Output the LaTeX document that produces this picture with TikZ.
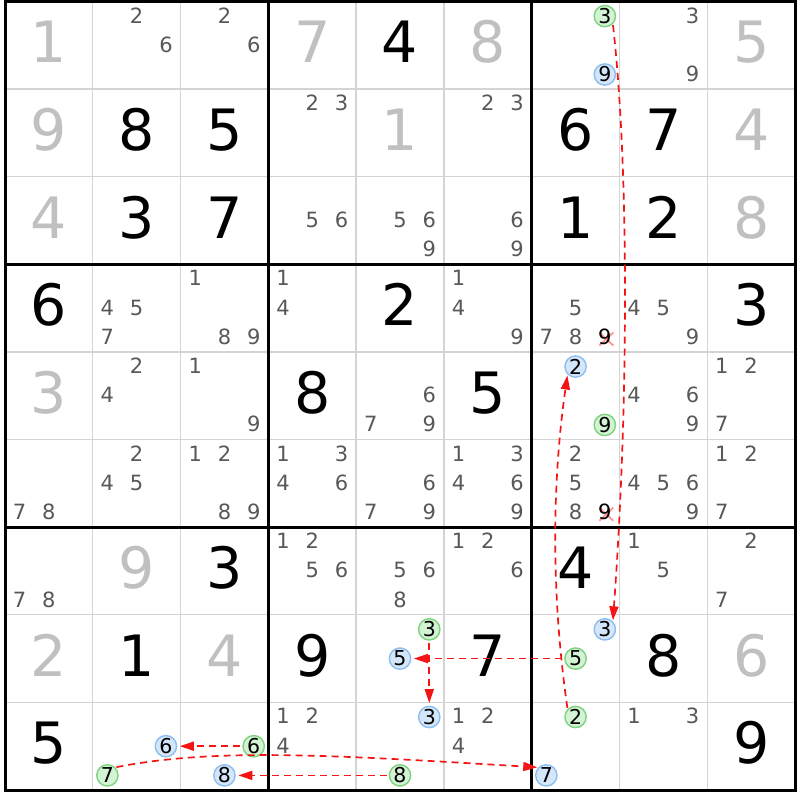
\documentclass[tikz,border=0pt]{standalone}
\usepackage{fontspec}
\setmainfont{DejaVu Sans}
\usetikzlibrary{arrows.meta}
\definecolor{solvedc}{RGB}{192,192,192}
\definecolor{candc}{RGB}{88,88,88}
\definecolor{thinc}{RGB}{212,212,212}
\definecolor{gfill}{RGB}{212,242,212}
\definecolor{gline}{RGB}{125,210,125}
\definecolor{bfill}{RGB}{212,230,250}
\definecolor{bline}{RGB}{140,190,240}
\definecolor{xred}{RGB}{255,150,150}
\definecolor{arrc}{RGB}{245,20,20}
\newcommand{\cellw}{87.78}
\newcommand{\cellh}{87.61}
\newcommand{\bigd}[4]{\node[bigdig,text=#4] (v#1#2) at ({5+\cellw*(#2-0.5)},{1.5+\cellh*(#1-0.5)+17.5}) {#3};}
\newcommand{\cd}[3]{\node[candig] (c#1#2#3) at ({5+\cellw*(#2-1)+\cellw*(2*mod(#3-1,3)+1)/6},{1.5+\cellh*(#1-1)+\cellh*(2*floor((#3-1)/3)+1)/6+7}) {#3};}
\newcommand{\cands}[3]{\foreach \d in {#3}{\cd{#1}{#2}{\d}}}
\newcommand{\cc}[4]{\node[#4] (n#1#2#3) at ({5+\cellw*(#2-1)+\cellw*(2*mod(#3-1,3)+1)/6},{1.5+\cellh*(#1-1)+\cellh*(2*floor((#3-1)/3)+1)/6}) {#3};}
\tikzset{
  bigdig/.style={font=\fontsize{57}{57}\selectfont, anchor=base, inner sep=0pt},
  candig/.style={font=\fontsize{21}{21}\selectfont, text=candc, anchor=base, inner sep=0pt},
  gcirc/.style={circle, draw=gline, fill=gfill, line width=1.4pt, minimum size=21.3pt, inner sep=0pt, font=\fontsize{20.5}{20.5}\selectfont, text=black},
  bcirc/.style={circle, draw=bline, fill=bfill, line width=1.4pt, minimum size=21.3pt, inner sep=0pt, font=\fontsize{20.5}{20.5}\selectfont, text=black},
  thinline/.style={draw=thinc, line width=1.4pt},
  thickline/.style={draw=black, line width=3pt},
  xmark/.style={draw=xred, line width=1.8pt},
  chainlink/.style={draw=arrc, line width=1.7pt, dash pattern=on 7pt off 5pt, -{Triangle[length=14pt,width=9pt]}, shorten <=2pt, shorten >=2.5pt},
}
\begin{document}
\begin{tikzpicture}[x=1pt,y=-1pt]
\useasboundingbox (0,0) rectangle (800,800);
\fill[white] (0,0) rectangle (800,800);
% grid
\foreach \i in {1,2,4,5,7,8} {
  \draw[thinline] ({5+\cellw*\i},1.5) -- ({5+\cellw*\i},790);
  \draw[thinline] (5,{1.5+\cellh*\i}) -- (795,{1.5+\cellh*\i});
}
\foreach \i in {3,6} {
  \draw[thickline] ({5+\cellw*\i},1.5) -- ({5+\cellw*\i},790);
  \draw[thickline] (5,{1.5+\cellh*\i}) -- (795,{1.5+\cellh*\i});
}
\draw[thickline] (5,1.5) rectangle (795,790);
% given digits
\bigd{1}{5}{4}{black}
\bigd{2}{2}{8}{black}\bigd{2}{3}{5}{black}\bigd{2}{7}{6}{black}\bigd{2}{8}{7}{black}
\bigd{3}{2}{3}{black}\bigd{3}{3}{7}{black}\bigd{3}{7}{1}{black}\bigd{3}{8}{2}{black}
\bigd{4}{1}{6}{black}\bigd{4}{5}{2}{black}\bigd{4}{9}{3}{black}
\bigd{5}{4}{8}{black}\bigd{5}{6}{5}{black}
\bigd{7}{3}{3}{black}\bigd{7}{7}{4}{black}
\bigd{8}{2}{1}{black}\bigd{8}{4}{9}{black}\bigd{8}{6}{7}{black}\bigd{8}{8}{8}{black}
\bigd{9}{1}{5}{black}\bigd{9}{9}{9}{black}
% solved digits
\bigd{1}{1}{1}{solvedc}\bigd{1}{4}{7}{solvedc}\bigd{1}{6}{8}{solvedc}\bigd{1}{9}{5}{solvedc}
\bigd{2}{1}{9}{solvedc}\bigd{2}{5}{1}{solvedc}\bigd{2}{9}{4}{solvedc}
\bigd{3}{1}{4}{solvedc}\bigd{3}{9}{8}{solvedc}
\bigd{5}{1}{3}{solvedc}
\bigd{7}{2}{9}{solvedc}
\bigd{8}{1}{2}{solvedc}\bigd{8}{3}{4}{solvedc}\bigd{8}{9}{6}{solvedc}
% elimination marks
\draw[xmark] (599.3,332.5) -- (613.3,345.5) (599.3,345.5) -- (613.3,332.5);
\draw[xmark] (599.3,507.7) -- (613.3,520.7) (599.3,520.7) -- (613.3,507.7);
% candidates
\cands{1}{2}{2,6}\cands{1}{3}{2,6}\cands{1}{8}{3,9}
\cands{2}{4}{2,3}\cands{2}{6}{2,3}
\cands{3}{4}{5,6}\cands{3}{5}{5,6,9}\cands{3}{6}{6,9}
\cands{4}{2}{4,5,7}\cands{4}{3}{1,8,9}\cands{4}{4}{1,4}\cands{4}{6}{1,4,9}
\cands{4}{7}{5,7,8}\cands{4}{8}{4,5,9}
\node[candig,text=black] (c479) at ({5+\cellw*6+\cellw*5/6},{1.5+\cellh*3+\cellh*5/6+7}) {9};
\cands{5}{2}{2,4}\cands{5}{3}{1,9}\cands{5}{5}{6,7,9}\cands{5}{8}{4,6,9}\cands{5}{9}{1,2,7}
\cands{6}{1}{7,8}\cands{6}{2}{2,4,5}\cands{6}{3}{1,2,8,9}\cands{6}{4}{1,3,4,6}
\cands{6}{5}{6,7,9}\cands{6}{6}{1,3,4,6,9}\cands{6}{7}{2,5,8}\cands{6}{8}{4,5,6,9}\cands{6}{9}{1,2,7}
\node[candig,text=black] (c679) at ({5+\cellw*6+\cellw*5/6},{1.5+\cellh*5+\cellh*5/6+7}) {9};
\cands{7}{1}{7,8}\cands{7}{4}{1,2,5,6}\cands{7}{5}{5,6,8}\cands{7}{6}{1,2,6}\cands{7}{8}{1,5}\cands{7}{9}{2,7}
\cands{9}{4}{1,2,4}\cands{9}{6}{1,2,4}\cands{9}{8}{1,3}
% chain candidates
\cc{1}{7}{3}{gcirc}\cc{1}{7}{9}{bcirc}
\cc{5}{7}{2}{bcirc}\cc{5}{7}{9}{gcirc}
\cc{8}{5}{3}{gcirc}\cc{8}{5}{5}{bcirc}
\cc{8}{7}{3}{bcirc}\cc{8}{7}{5}{gcirc}
\cc{9}{2}{6}{bcirc}\cc{9}{2}{7}{gcirc}
\cc{9}{3}{6}{gcirc}\cc{9}{3}{8}{bcirc}
\cc{9}{5}{3}{bcirc}\cc{9}{5}{8}{gcirc}
\cc{9}{7}{2}{gcirc}\cc{9}{7}{7}{bcirc}
% links
\draw[chainlink, shorten <=1pt, shorten >=1pt] (n173.south east) .. controls +(16,140) and +(16,-220) .. (n873.north east);
\draw[chainlink, shorten <=1pt, shorten >=1pt] (n972.north west) .. controls +(-16,-110) and +(-16,110) .. (n572.south west);
\draw[chainlink] (n875) -- (n855);
\draw[chainlink] (n853) -- (n953);
\draw[chainlink] (n936) -- (n926);
\draw[chainlink] (n958) -- (n938);
\draw[chainlink, shorten <=1pt, shorten >=1pt] (n927.north east) .. controls +(100,-20) and +(-200,-12) .. (n977.north west);
\end{tikzpicture}
\end{document}
